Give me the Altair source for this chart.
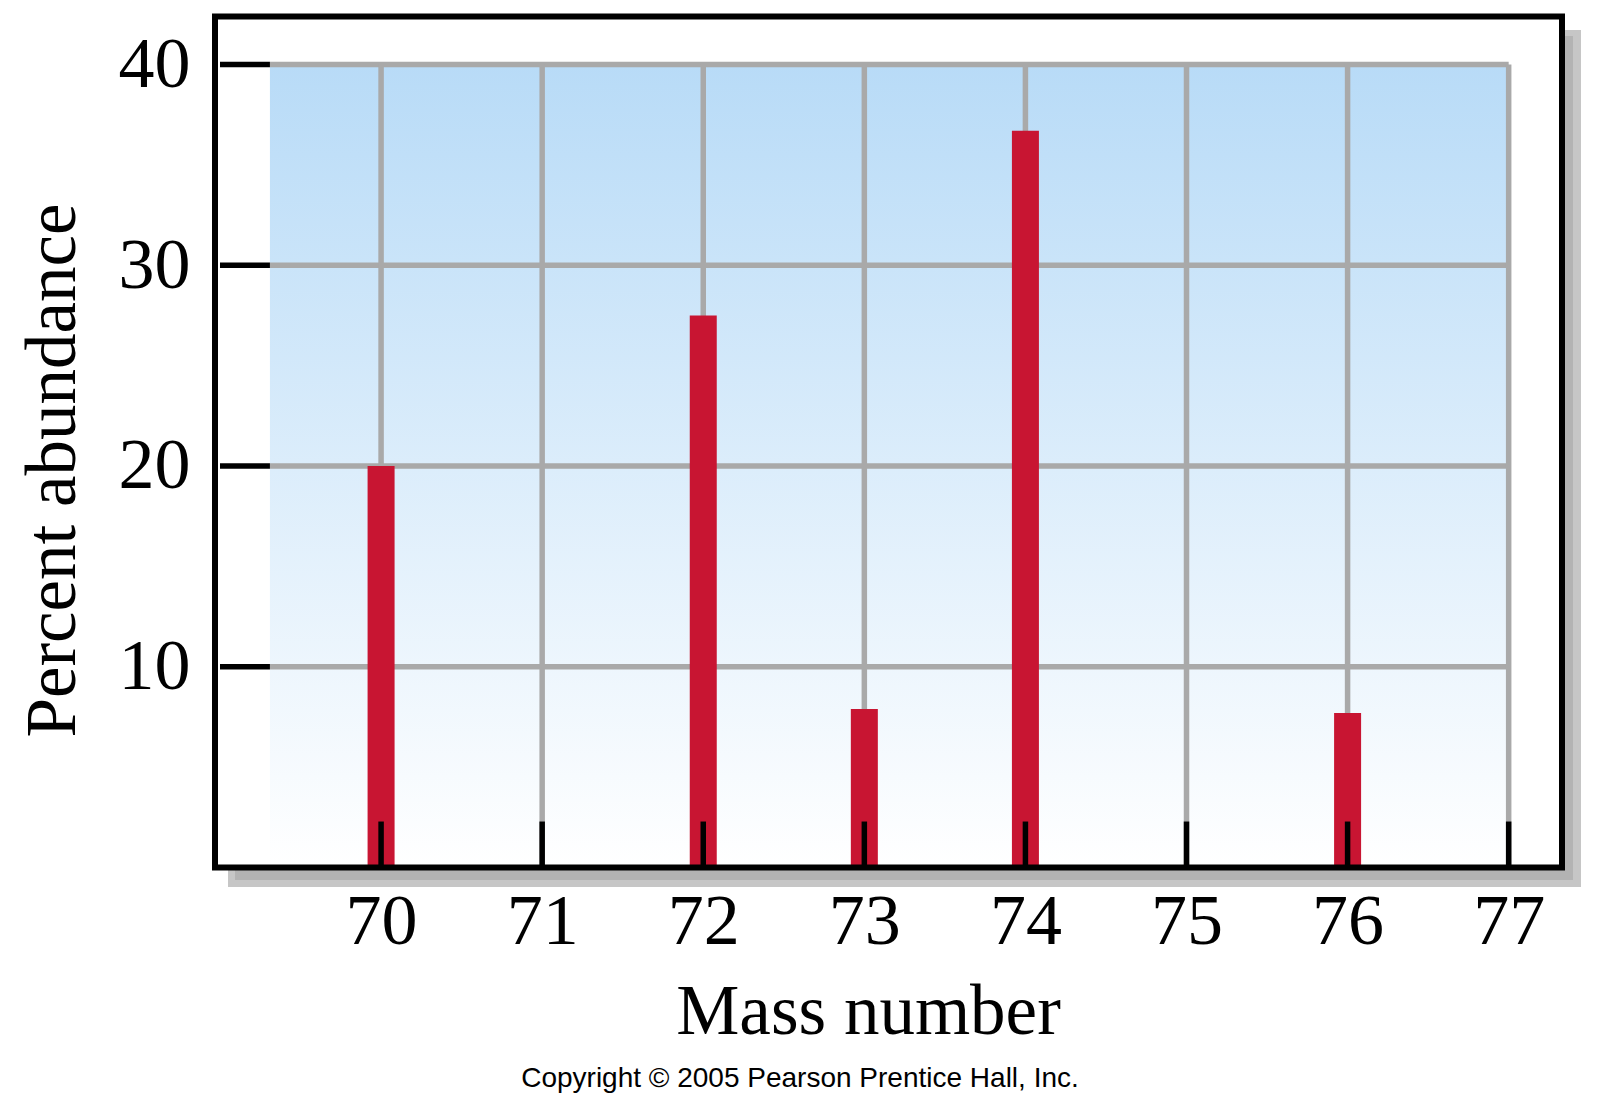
import altair as alt
import pandas as pd

# ---- data ----
MASS_NUMBERS = [70, 72, 73, 74, 76]
ABUNDANCE = [20.0, 27.5, 7.9, 36.7, 7.7]
X_TICKS = [70, 71, 72, 73, 74, 75, 76, 77]
Y_TICKS = [10, 20, 30, 40]

bars_df = pd.DataFrame({"mass": MASS_NUMBERS, "pct": ABUNDANCE})
xt_df = pd.DataFrame({"mass": X_TICKS})
yt_df = pd.DataFrame({"pct": Y_TICKS})

W, H = 1347, 851
X_DOM = [69.0, 77.3]
Y_DOM = [0, 42.39]
GRID_LEFT = 69.31
TICK_LEN = 2.29

SERIF = "Liberation Serif"
GRID_GRAY = "#a9a9a9"

xs = alt.Scale(domain=X_DOM, nice=False, zero=False)
ys = alt.Scale(domain=Y_DOM, nice=False, zero=False)

AX_X = alt.Axis(
    values=X_TICKS,
    title="Mass number",
    titleFont=SERIF,
    titleFontSize=71,
    titleFontWeight="normal",
    titleColor="black",
    titleX=653,
    titleY=165.5,
    titleAnchor="middle",
    titleAlign="center",
    titleBaseline="alphabetic",
    labelFont=SERIF,
    labelFontSize=72,
    labelColor="black",
    labelBaseline="alphabetic",
    labelPadding=75.5,
    labelFlush=False,
    labelOverlap=False,
    domain=False,
    ticks=False,
    grid=False,
)
AX_Y = alt.Axis(
    values=Y_TICKS,
    title="Percent abundance",
    titleFont=SERIF,
    titleFontSize=71,
    titleFontWeight="normal",
    titleColor="black",
    titleAngle=270,
    titleX=-141,
    titleY=453.5,
    titleAlign="center",
    titleBaseline="alphabetic",
    labelFont=SERIF,
    labelFontSize=72,
    labelColor="black",
    labelPadding=25,
    labelFlush=False,
    labelOverlap=False,
    domain=False,
    ticks=False,
    grid=False,
)

base_one = alt.Chart(pd.DataFrame({"k": [0]}))

shadow_light = base_one.mark_rect(color="#c6c6c6").encode(
    x=alt.value(13), x2=alt.value(1366), y=alt.value(13.5), y2=alt.value(870.5)
)
shadow_dark = base_one.mark_rect(color="#b3b3b3").encode(
    x=alt.value(20), x2=alt.value(1358), y=alt.value(19.5), y2=alt.value(863.5)
)
white_bg = base_one.mark_rect(color="white").encode(
    x=alt.value(0), x2=alt.value(W), y=alt.value(0), y2=alt.value(H)
)

gradient = base_one.mark_rect(
    color=alt.Gradient(
        gradient="linear",
        stops=[
            alt.GradientStop(offset=0, color="#b8dbf7"),
            alt.GradientStop(offset=1, color="#ffffff"),
        ],
        x1=0, x2=0, y1=0, y2=1,
    )
).encode(
    x=alt.X(datum=GRID_LEFT, scale=xs, axis=AX_X),
    x2=alt.datum(77),
    y=alt.Y(datum=40, scale=ys, axis=AX_Y),
    y2=alt.datum(0),
)

hgrid = alt.Chart(yt_df).mark_rule(color=GRID_GRAY, strokeWidth=5.5).encode(
    y=alt.Y("pct:Q", scale=ys, axis=AX_Y),
    x=alt.X(datum=GRID_LEFT, scale=xs, axis=AX_X),
    x2=alt.datum(77),
)
vgrid = alt.Chart(xt_df).mark_rule(color=GRID_GRAY, strokeWidth=5.5).encode(
    x=alt.X("mass:Q", scale=xs, axis=AX_X),
    y=alt.Y(datum=0, scale=ys, axis=AX_Y),
    y2=alt.datum(40),
)

bars = alt.Chart(bars_df).mark_bar(color="#c81532", size=27).encode(
    x=alt.X("mass:Q", scale=xs, axis=AX_X),
    y=alt.Y("pct:Q", scale=ys, axis=AX_Y),
    y2=alt.datum(0),
)

xticks = alt.Chart(xt_df).mark_rule(color="black", strokeWidth=5.5).encode(
    x=alt.X("mass:Q", scale=xs, axis=AX_X),
    y=alt.Y(datum=0, scale=ys, axis=AX_Y),
    y2=alt.datum(TICK_LEN),
)
yticks = alt.Chart(yt_df).mark_rule(color="black", strokeWidth=5.5).encode(
    y=alt.Y("pct:Q", scale=ys, axis=AX_Y),
    x=alt.X(datum=X_DOM[0], scale=xs, axis=AX_X),
    x2=alt.datum(GRID_LEFT),
)

frame = base_one.mark_rect(
    fill="transparent", stroke="black", strokeWidth=6
).encode(x=alt.value(0), x2=alt.value(W), y=alt.value(0), y2=alt.value(H))

chart = (
    alt.layer(
        shadow_light, shadow_dark, white_bg, gradient, hgrid, vgrid,
        bars, xticks, yticks, frame,
    )
    .properties(
        width=W,
        height=H,
        padding={"left": 207, "top": 8.5, "right": 25, "bottom": 225.5},
        autosize=alt.AutoSizeParams(type="none"),
        title=alt.TitleParams(
            text="Copyright © 2005 Pearson Prentice Hall, Inc.",
            orient="bottom",
            anchor="middle",
            frame="group",
            font="Liberation Sans",
            fontSize=28,
            fontWeight="normal",
            color="black",
            dx=-88.5,
            offset=18,
        ),
    )
    .configure_view(strokeWidth=0)
    .configure(background="white")
)

chart.save("out.html", embed_options={"renderer": "svg", "actions": False})
